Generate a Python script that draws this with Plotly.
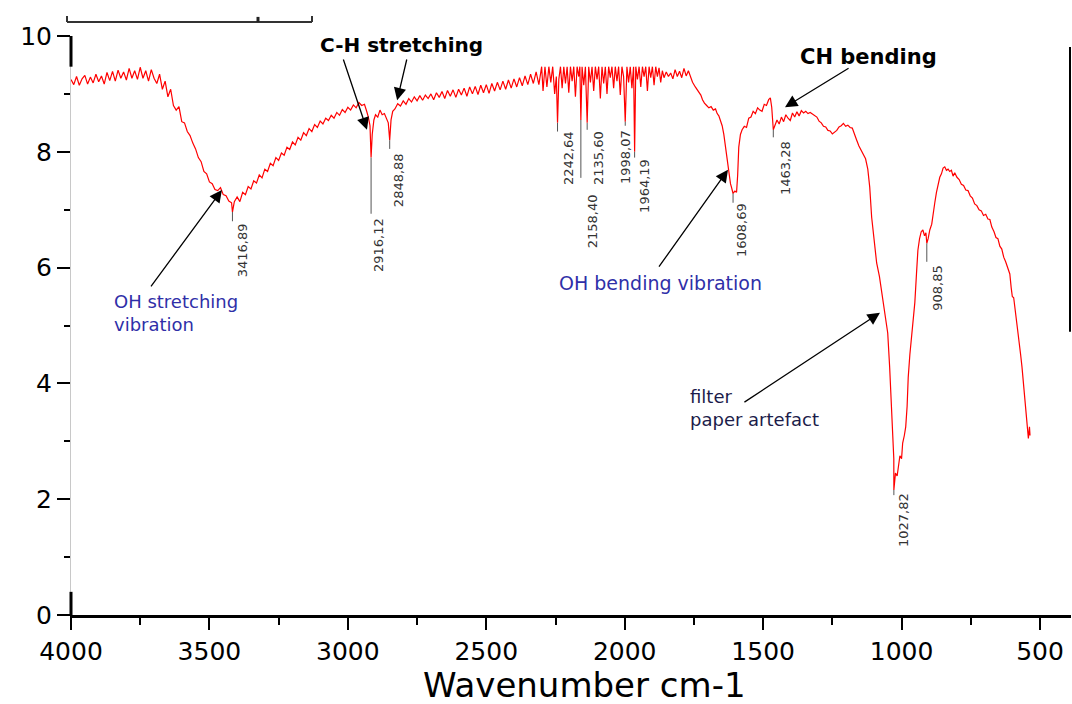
import plotly.graph_objects as go

# ---------------- data ----------------
wavenumber = [
    4000, 3990, 3980, 3970, 3960, 3950, 3940, 3930, 3920, 3910, 3900, 3890, 3880, 3870, 3860, 3850,
    3840, 3830, 3820, 3810, 3800, 3790, 3780, 3770, 3760, 3750, 3740, 3730, 3720, 3710, 3700, 3690,
    3680, 3670, 3660, 3650, 3640, 3630, 3620, 3610, 3600, 3590, 3580, 3570, 3560, 3550, 3540, 3530,
    3520, 3510, 3500, 3490, 3480, 3470, 3460, 3450, 3440, 3430, 3420, 3416.89, 3410, 3400, 3390, 3380,
    3370, 3360, 3350, 3340, 3330, 3320, 3310, 3300, 3290, 3280, 3270, 3260, 3250, 3240, 3230, 3220,
    3210, 3200, 3190, 3180, 3170, 3160, 3150, 3140, 3130, 3120, 3110, 3100, 3090, 3080, 3070, 3060,
    3050, 3040, 3030, 3020, 3010, 3000, 2990, 2980, 2970, 2960, 2950, 2940, 2932, 2926, 2920, 2916.12,
    2912, 2906, 2900, 2892, 2884, 2876, 2868, 2860, 2854, 2848.88, 2844, 2838, 2830, 2820, 2810, 2800,
    2790, 2780, 2770, 2760, 2750, 2740, 2730, 2720, 2710, 2700, 2690, 2680, 2670, 2660, 2650, 2640,
    2630, 2620, 2610, 2600, 2590, 2580, 2570, 2560, 2550, 2540, 2530, 2520, 2510, 2500, 2490, 2480,
    2470, 2460, 2450, 2440, 2430, 2420, 2410, 2400, 2390, 2380, 2370, 2360, 2350, 2340, 2330, 2320,
    2310, 2300, 2295, 2288, 2281, 2274, 2267, 2260, 2253, 2247, 2242.64, 2238, 2232, 2226, 2220, 2214,
    2208, 2202, 2196, 2190, 2184, 2178, 2172, 2166, 2162, 2158.40, 2154, 2148, 2142, 2135.60, 2130, 2124,
    2118, 2112, 2106, 2100, 2094, 2088, 2082, 2076, 2070, 2064, 2058, 2052, 2046, 2040, 2034, 2028,
    2022, 2016, 2010, 2004, 1998.07, 1992, 1986, 1980, 1974, 1968, 1964.19, 1960, 1954, 1948, 1942, 1936,
    1930, 1924, 1918, 1912, 1906, 1900, 1894, 1888, 1882, 1876, 1870, 1864, 1858, 1850, 1842, 1834,
    1826, 1818, 1810, 1802, 1794, 1786, 1778, 1770, 1762, 1755, 1745, 1735, 1725, 1719, 1712, 1704,
    1696, 1688, 1680, 1672, 1666, 1660, 1654, 1648, 1642, 1636, 1630, 1624, 1618, 1614, 1608.69, 1602,
    1596, 1592, 1588, 1582, 1576, 1568, 1560, 1552, 1544, 1536, 1528, 1520, 1512, 1504, 1496, 1488,
    1480, 1474, 1469, 1463.28, 1458, 1450, 1442, 1434, 1426, 1418, 1410, 1402, 1394, 1386, 1378, 1370,
    1362, 1354, 1346, 1338, 1330, 1322, 1314, 1306, 1298, 1290, 1282, 1274, 1266, 1258, 1250, 1242,
    1234, 1226, 1218, 1210, 1202, 1194, 1186, 1178, 1170, 1162, 1154, 1146, 1138, 1130, 1122, 1115,
    1108, 1100, 1090, 1080, 1072, 1066, 1058, 1050, 1043, 1037, 1032, 1028, 1027.82, 1022, 1016, 1010,
    1006, 1000, 996, 990, 985, 980, 976, 970, 963, 957, 952, 946, 941, 935, 929, 923,
    917, 912, 908.85, 904, 898, 891, 886, 880, 874, 868, 862, 856, 850, 844, 838, 832,
    826, 820, 814, 808, 800, 792, 784, 776, 768, 760, 752, 744, 736, 728, 720, 712,
    704, 696, 688, 681, 674, 666, 659, 652, 645, 638, 631, 624, 617, 609, 604, 600,
    595, 590, 585, 580, 575, 570, 565, 560, 555, 550, 545, 542, 538, 536,
]
transmittance = [
    9.25, 9.16, 9.30, 9.15, 9.26, 9.32, 9.17, 9.29, 9.19, 9.34, 9.21, 9.31, 9.17, 9.37, 9.23, 9.39,
    9.22, 9.41, 9.27, 9.38, 9.24, 9.44, 9.27, 9.40, 9.25, 9.46, 9.27, 9.40, 9.22, 9.42, 9.27, 9.18,
    9.34, 9.08, 9.22, 8.95, 9.08, 8.80, 8.72, 8.78, 8.52, 8.50, 8.35, 8.28, 8.15, 8.05, 7.90, 7.83,
    7.66, 7.62, 7.48, 7.45, 7.35, 7.33, 7.38, 7.26, 7.24, 7.15, 7.12, 6.96, 7.14, 7.22, 7.14, 7.30,
    7.26, 7.40, 7.36, 7.50, 7.46, 7.60, 7.55, 7.70, 7.66, 7.80, 7.76, 7.90, 7.85, 7.98, 7.94, 8.08,
    8.04, 8.17, 8.12, 8.25, 8.20, 8.33, 8.28, 8.40, 8.35, 8.47, 8.42, 8.53, 8.48, 8.58, 8.54, 8.63,
    8.58, 8.68, 8.63, 8.73, 8.68, 8.77, 8.72, 8.81, 8.76, 8.85, 8.80, 8.82, 8.70, 8.60, 8.45, 7.90,
    8.30, 8.55, 8.64, 8.60, 8.72, 8.64, 8.66, 8.58, 8.50, 8.20, 8.55, 8.70, 8.74, 8.83, 8.79, 8.88,
    8.82, 8.92, 8.86, 8.95, 8.88, 8.97, 8.89, 8.98, 8.92, 9.00, 8.90, 9.02, 8.94, 9.04, 8.92, 9.06,
    8.96, 9.07, 8.94, 9.08, 8.98, 9.10, 8.96, 9.12, 9.00, 9.13, 8.99, 9.15, 9.02, 9.16, 9.01, 9.18,
    9.05, 9.20, 9.07, 9.22, 9.08, 9.24, 9.10, 9.26, 9.12, 9.28, 9.14, 9.31, 9.16, 9.34, 9.18, 9.38,
    9.16, 9.47, 9.05, 9.47, 9.12, 9.47, 9.20, 9.47, 9.00, 9.30, 8.50, 9.25, 9.47, 9.10, 9.47, 9.18,
    9.47, 9.02, 9.47, 9.22, 9.47, 8.95, 9.47, 9.30, 9.47, 8.55, 9.47, 9.15, 9.47, 8.50, 9.47, 9.20,
    9.47, 9.05, 9.47, 9.25, 9.47, 8.92, 9.47, 9.18, 9.47, 9.00, 9.47, 9.28, 9.47, 9.10, 9.47, 9.22,
    9.47, 8.98, 9.47, 9.30, 8.52, 9.47, 9.20, 9.47, 9.10, 9.47, 8.00, 9.47, 9.25, 9.47, 9.12, 9.47,
    9.30, 9.47, 9.05, 9.47, 9.28, 9.47, 9.15, 9.47, 9.30, 9.45, 9.20, 9.40, 9.28, 9.38, 9.30, 9.36,
    9.26, 9.42, 9.30, 9.39, 9.28, 9.44, 9.31, 9.40, 9.28, 9.20, 9.12, 9.05, 8.98, 8.90, 8.84, 8.80,
    8.76, 8.78, 8.72, 8.74, 8.66, 8.62, 8.55, 8.45, 8.30, 8.10, 7.85, 7.62, 7.45, 7.38, 7.28, 7.32,
    7.30, 7.60, 8.08, 8.30, 8.38, 8.44, 8.42, 8.58, 8.60, 8.70, 8.66, 8.76, 8.72, 8.70, 8.82, 8.80,
    8.90, 8.93, 8.77, 8.38, 8.45, 8.55, 8.48, 8.60, 8.52, 8.64, 8.58, 8.54, 8.67, 8.60, 8.69, 8.62,
    8.71, 8.67, 8.70, 8.66, 8.68, 8.65, 8.62, 8.60, 8.53, 8.50, 8.44, 8.43, 8.37, 8.36, 8.31, 8.34,
    8.37, 8.43, 8.45, 8.49, 8.44, 8.46, 8.42, 8.41, 8.32, 8.20, 8.10, 8.02, 7.95, 7.88, 7.70, 7.39,
    6.87, 6.50, 6.08, 5.85, 5.60, 5.44, 5.15, 4.87, 4.28, 3.60, 3.05, 2.70, 2.16, 2.45, 2.40, 2.65,
    2.75, 2.70, 2.97, 3.10, 3.25, 3.60, 4.10, 4.50, 4.87, 5.15, 5.40, 5.90, 6.30, 6.50, 6.62, 6.65,
    6.55, 6.60, 6.42, 6.50, 6.65, 6.75, 6.95, 7.12, 7.30, 7.45, 7.56, 7.62, 7.72, 7.74, 7.68, 7.70,
    7.66, 7.68, 7.58, 7.64, 7.56, 7.52, 7.44, 7.42, 7.34, 7.33, 7.24, 7.20, 7.10, 7.07, 7.00, 6.98,
    6.90, 6.92, 6.84, 6.83, 6.70, 6.62, 6.52, 6.50, 6.37, 6.32, 6.18, 6.10, 5.98, 5.89, 5.65, 5.50,
    5.48, 5.30, 5.10, 4.87, 4.70, 4.50, 4.28, 4.00, 3.71, 3.50, 3.20, 3.05, 3.25, 3.10,
]

peak_wavenumbers = [3416.89, 2916.12, 2848.88, 2242.64, 2158.40, 2135.60,
                    1998.07, 1964.19, 1608.69, 1463.28, 1027.82, 908.85]
peak_labels = ["3416,89", "2916,12", "2848,88", "2242,64", "2158,40", "2135,60",
               "1998,07", "1964,19", "1608,69", "1463,28", "1027,82", "908,85"]

x_tick_values = [4000, 3500, 3000, 2500, 2000, 1500, 1000, 500]
y_tick_values = [0, 2, 4, 6, 8, 10]

# ---------------- layout helpers (positions / styles) ----------------
leader_end_y = [6.80, 6.93, 8.05, 8.35, 7.55, 8.38, 8.45, 7.90, 7.12, 8.25, 2.07, 6.10]
label_pos = [(3382, 6.30), (2891, 6.39), (2819, 7.51), (2205, 7.89), (2118, 6.80), (2097, 7.89),
             (1999, 7.91), (1927, 7.41), (1576, 6.65), (1421, 7.72), (995, 1.64), (869, 5.65)]

FONT = "DejaVu Sans"
BLUE = "#2f2fa8"

fig = go.Figure()
fig.add_trace(go.Scatter(x=wavenumber, y=transmittance, mode="lines",
                         line=dict(color="#ff0000", width=1.2), hoverinfo="skip",
                         showlegend=False))

shapes = []
annotations = []

for wn, lab, yend, (lx, ly) in zip(peak_wavenumbers, peak_labels, leader_end_y, label_pos):
    ytop = transmittance[wavenumber.index(wn)]
    shapes.append(dict(type="line", xref="x", yref="y", x0=wn, x1=wn, y0=ytop, y1=yend,
                       line=dict(color="#555555", width=1)))
    annotations.append(dict(x=lx, y=ly, xref="x", yref="y", text=lab, showarrow=False,
                            textangle=-90, xanchor="center", yanchor="middle",
                            font=dict(family=FONT, size=13, color="#333333")))

arrows = [
    ((3455, 7.34), (3715, 5.65)),
    ((2931, 8.38), (3018, 9.62)),
    ((2822, 8.89), (2786, 9.62)),
    ((1421, 8.77), (1186, 9.46)),
    ((1627, 7.69), (1880, 5.99)),
    ((1078, 5.22), (1573, 3.66)),
]
for (hx, hy), (tx, ty) in arrows:
    annotations.append(dict(x=hx, y=hy, ax=tx, ay=ty, xref="x", yref="y", axref="x", ayref="y",
                            text="", showarrow=True, arrowhead=2, arrowsize=1.9,
                            arrowwidth=1.3, arrowcolor="black", standoff=0, startstandoff=0))

annotations += [
    dict(x=2808, y=9.84, xref="x", yref="y", text="<b>C-H stretching</b>", showarrow=False,
         font=dict(family=FONT, size=20, color="black")),
    dict(x=1118, y=9.64, xref="x", yref="y", text="<b>CH bending</b>", showarrow=False,
         font=dict(family=FONT, size=21, color="black")),
    dict(x=3852, y=5.22, xref="x", yref="y", text="OH stretching<br>vibration", showarrow=False,
         xanchor="left", align="left", font=dict(family=FONT, size=18, color=BLUE)),
    dict(x=1869, y=5.73, xref="x", yref="y", text="OH bending vibration", showarrow=False,
         font=dict(family=FONT, size=19, color=BLUE)),
    dict(x=1771, y=3.58, xref="x", yref="y", text="filter<br>paper artefact", showarrow=False,
         xanchor="left", align="left", font=dict(family=FONT, size=18, color="#1c1c4a")),
    dict(x=0.513, y=-0.121, xref="paper", yref="paper", text="Wavenumber cm-1",
         showarrow=False, yanchor="middle", font=dict(family=FONT, size=34, color="black")),
]

shapes += [
    dict(type="line", xref="paper", yref="y", x0=0, x1=0, y0=9.47, y1=10,
         line=dict(color="black", width=3)),
    dict(type="line", xref="paper", yref="y", x0=0, x1=0, y0=0, y1=0.4,
         line=dict(color="black", width=3)),
    dict(type="line", xref="paper", yref="paper", x0=-0.004, x1=0.241, y0=1.0242, y1=1.0242,
         line=dict(color="#333333", width=2)),
    dict(type="line", xref="paper", yref="paper", x0=-0.004, x1=-0.004, y0=1.0242, y1=1.0345,
         line=dict(color="#333333", width=2)),
    dict(type="line", xref="paper", yref="paper", x0=0.241, x1=0.241, y0=1.0242, y1=1.0345,
         line=dict(color="#333333", width=2)),
    dict(type="line", xref="paper", yref="paper", x0=0.187, x1=0.187, y0=1.0242, y1=1.033,
         line=dict(color="#222222", width=3)),
    dict(type="line", xref="paper", yref="paper", x0=0.999, x1=0.999, y0=0.981, y1=0.489,
         line=dict(color="black", width=2)),
]

fig.update_layout(
    width=1072, height=704,
    margin=dict(l=71, r=1, t=36, b=89),
    paper_bgcolor="white", plot_bgcolor="white",
    showlegend=False,
    shapes=shapes, annotations=annotations,
    xaxis=dict(range=[4000, 388], tickvals=x_tick_values, ticks="outside", ticklen=12,
               tickwidth=2, tickcolor="black", showline=True, linecolor="black", linewidth=3,
               showgrid=False, zeroline=False,
               tickfont=dict(family=FONT, size=25, color="black"),
               minor=dict(dtick=250, tick0=0, ticks="outside", ticklen=7, tickwidth=2,
                          tickcolor="black", showgrid=False)),
    yaxis=dict(range=[0, 10], tickvals=y_tick_values, ticks="outside", ticklen=13,
               tickwidth=2, tickcolor="black", showline=True, linecolor="#c8c8c8", linewidth=1,
               showgrid=False, zeroline=False,
               tickfont=dict(family=FONT, size=25, color="black"),
               minor=dict(dtick=1, tick0=0, ticks="outside", ticklen=6, tickwidth=2,
                          tickcolor="black", showgrid=False)),
)

fig.write_html("out.html")
